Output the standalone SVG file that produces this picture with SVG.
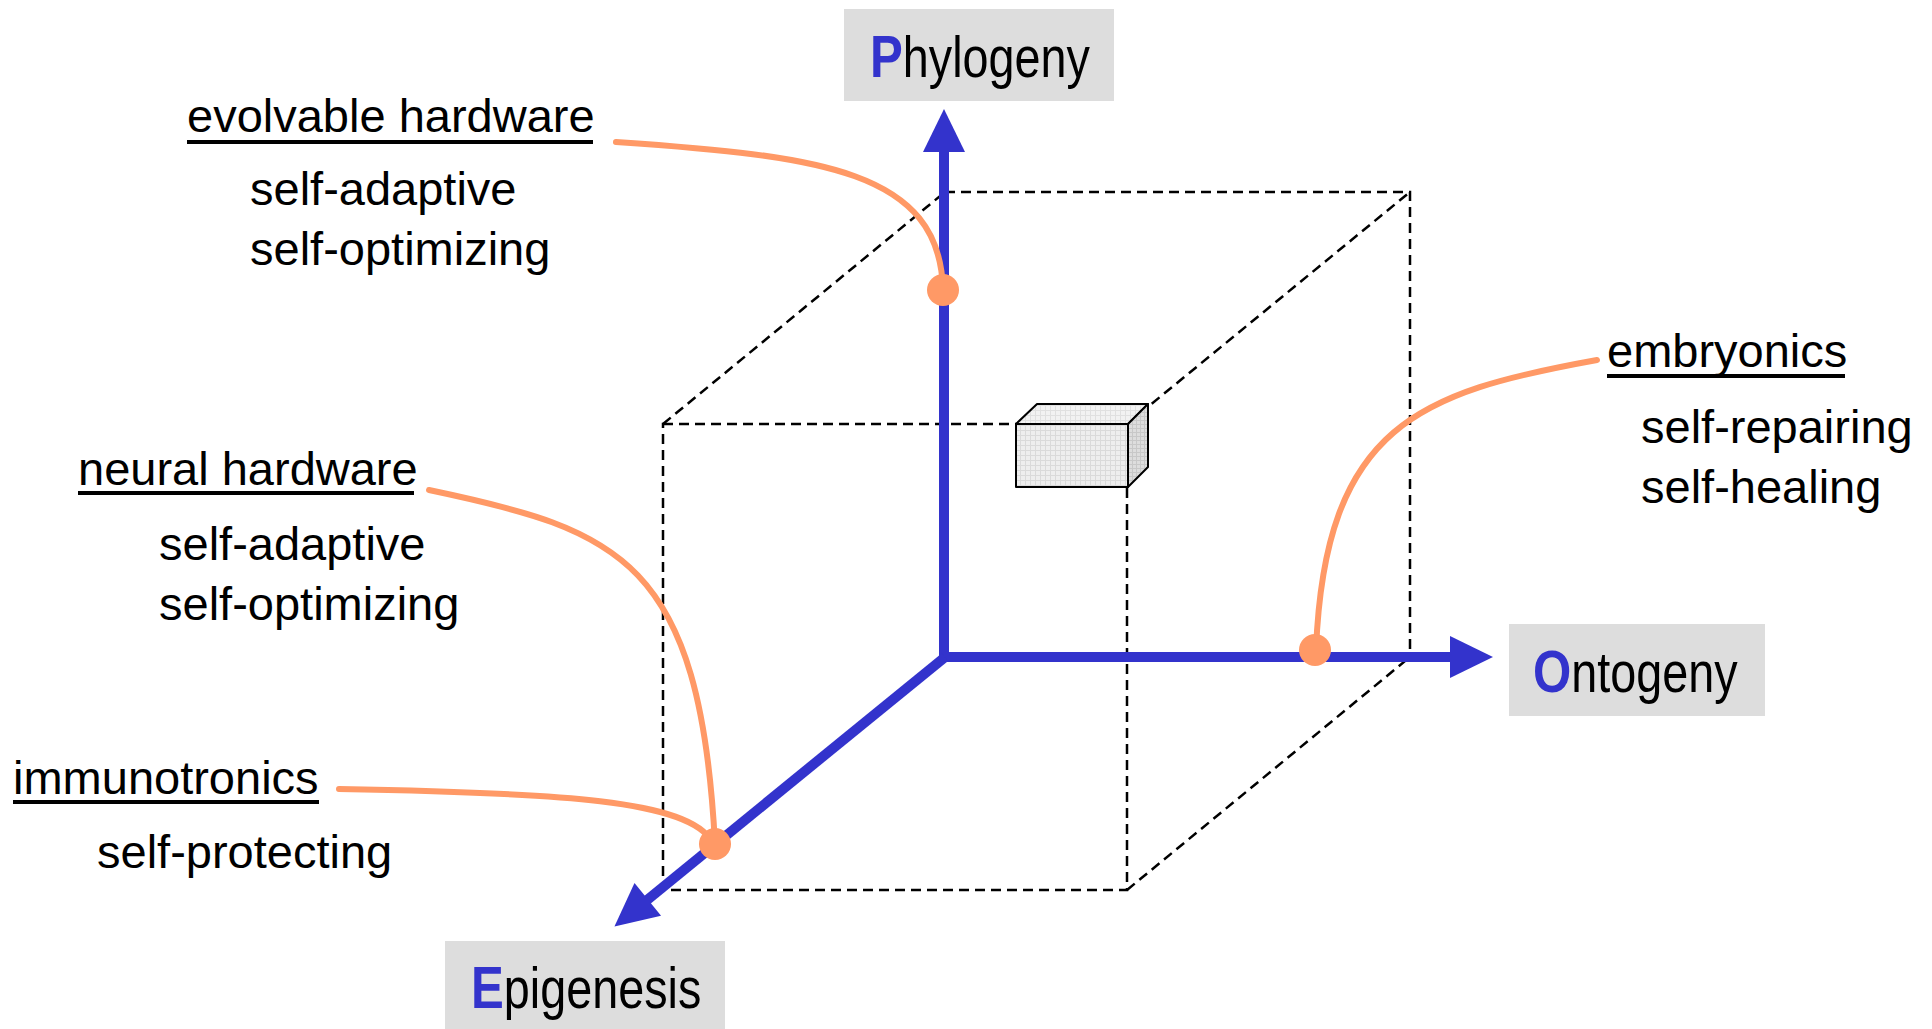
<svg xmlns="http://www.w3.org/2000/svg" width="1932" height="1029" viewBox="0 0 1932 1029">
<style>
.lbl{font-family:"Liberation Sans",Arial,Helvetica,sans-serif;font-size:47px;fill:#000}
.ax{font-family:"Liberation Sans",Arial,Helvetica,sans-serif;font-size:57px;fill:#000}
.axi{font-size:60px;font-weight:bold;fill:#3333cc}
.axbox{fill:#dddddd}
.ul{stroke:#000;stroke-width:4}
.dash{fill:none;stroke:#000;stroke-width:2.5;stroke-dasharray:10 6}
.axis{fill:none;stroke:#3333cc;stroke-width:10;marker-end:url(#ah)}
.cur{fill:none;stroke:#ff9966;stroke-width:6;stroke-linecap:round}
.dot{fill:#ff9966}
.bx{stroke:#000;stroke-width:2;stroke-linejoin:round}
</style>
<defs>
<marker id="ah" markerUnits="userSpaceOnUse" markerWidth="44" markerHeight="44" viewBox="0 -22 44 44" refX="0" refY="0" orient="auto" overflow="visible">
<path d="M-1,-21 L42,0 L-1,21 z" fill="#3333cc"/>
</marker>
<pattern id="gF" width="5" height="5" patternUnits="userSpaceOnUse"><rect width="5" height="5" fill="#eeeeee"/><path d="M0,0.5H5M0.5,0V5" stroke="#dadada" stroke-width="1"/></pattern>
<pattern id="gT" width="5" height="5" patternUnits="userSpaceOnUse"><rect width="5" height="5" fill="#f2f2f2"/><path d="M0,0.5H5M0.5,0V5" stroke="#e0e0e0" stroke-width="1"/></pattern>
<pattern id="gR" width="4" height="4" patternUnits="userSpaceOnUse"><rect width="4" height="4" fill="#dddddd"/><path d="M0,0.5H4M0.5,0V4" stroke="#c8c8c8" stroke-width="1"/></pattern>
</defs>
<rect width="1932" height="1029" fill="#ffffff"/>

<g id="cube">
<path class="dash" d="M945,192 H1410 V657"/>
<path class="dash" d="M663,424 H1127 V890 H663 Z"/>
<path class="dash" d="M663,424 L945,192 M1127,424 L1410,192 M1127,890 L1410,657 M663,890 L945,657"/>
</g>

<g id="small-box">
<polygon class="bx" fill="url(#gT)" points="1016,424 1037,404 1148,404 1128,424"/>
<polygon class="bx" fill="url(#gR)" points="1128,424 1148,404 1148,467 1128,487"/>
<rect class="bx" fill="url(#gF)" x="1016" y="424" width="112" height="63"/>
</g>

<g id="connectors">
<line class="axis" x1="944" y1="657" x2="944" y2="151"/>
<line class="axis" x1="940" y1="657" x2="1451" y2="657"/>
<line class="axis" x1="945" y1="657" x2="647" y2="900"/>
<path class="cur" d="M616,142 C820,156 940,170 943,290"/>
<path class="cur" d="M1597,360 C1420,392 1325,425 1316,650"/>
<path class="cur" d="M429,490 C620,530 700,560 715,844"/>
<path class="cur" d="M339,789 C560,793 690,800 712,842"/>
<circle class="dot" cx="943" cy="290" r="16"/>
<circle class="dot" cx="1315" cy="650" r="16"/>
<circle class="dot" cx="715" cy="844" r="16"/>
</g>

<g id="phylogeny">
<rect class="axbox" x="844" y="9" width="270" height="92"/>
<text class="ax" transform="translate(870,77) scale(0.82,1)"><tspan class="axi">P</tspan>hylogeny</text>
</g>

<g id="ontogeny">
<rect class="axbox" x="1509" y="624" width="256" height="92"/>
<text class="ax" transform="translate(1533,692) scale(0.82,1)"><tspan class="axi">O</tspan>ntogeny</text>
</g>

<g id="epigenesis">
<rect class="axbox" x="445" y="941" width="280" height="92"/>
<text class="ax" transform="translate(471,1008) scale(0.82,1)"><tspan class="axi">E</tspan>pigenesis</text>
</g>

<g id="evolvable-hardware">
<text class="lbl" x="187" y="132">evolvable hardware</text>
<line class="ul" x1="187" y1="142" x2="593" y2="142"/>
<text class="lbl" x="250" y="205">self-adaptive</text>
<text class="lbl" x="250" y="265">self-optimizing</text>
</g>

<g id="neural-hardware">
<text class="lbl" x="78" y="485">neural hardware</text>
<line class="ul" x1="78" y1="493" x2="414" y2="493"/>
<text class="lbl" x="159" y="560">self-adaptive</text>
<text class="lbl" x="159" y="620">self-optimizing</text>
</g>

<g id="immunotronics">
<text class="lbl" x="13" y="794">immunotronics</text>
<line class="ul" x1="13" y1="802" x2="319" y2="802"/>
<text class="lbl" x="97" y="868">self-protecting</text>
</g>

<g id="embryonics">
<text class="lbl" x="1607" y="367">embryonics</text>
<line class="ul" x1="1607" y1="376" x2="1845" y2="376"/>
<text class="lbl" x="1641" y="443">self-repairing</text>
<text class="lbl" x="1641" y="503">self-healing</text>
</g>
</svg>
